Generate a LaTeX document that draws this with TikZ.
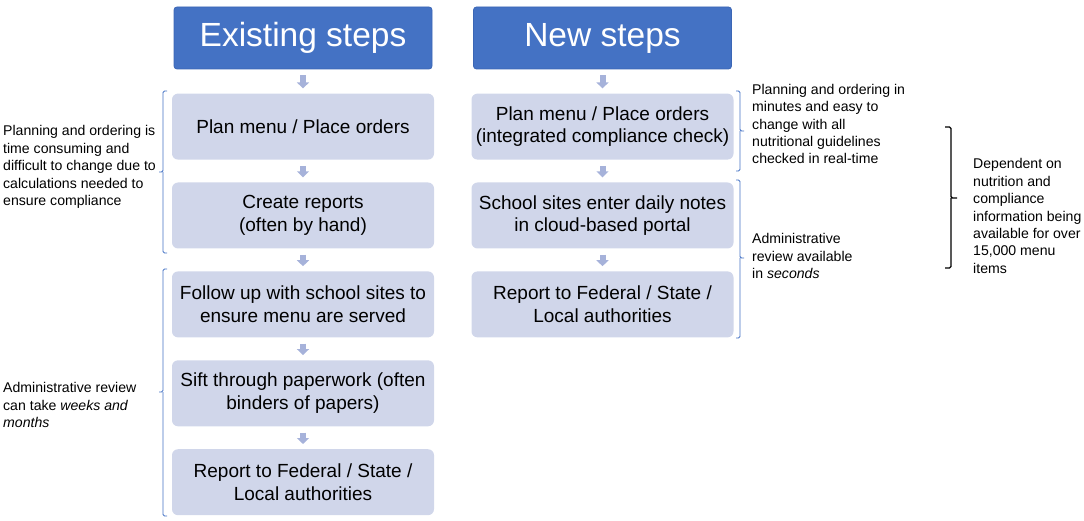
\documentclass[tikz,border=0pt]{standalone}
\usepackage{fontspec}
\setmainfont{Liberation Sans}
\usetikzlibrary{arrows.meta,positioning}

\definecolor{hdrblue}{HTML}{4472C4}
\definecolor{hdredge}{HTML}{3B66B5}
\definecolor{stepfill}{HTML}{D0D6EA}
\definecolor{arrfill}{HTML}{A6B2DA}

\begin{document}
\begin{tikzpicture}[x=1pt,y=-1pt,node distance=22.5pt,
  header/.style={rectangle,rounded corners=3pt,fill=hdrblue,draw=hdredge,line width=0.8pt,
                 text=white,minimum width=258pt,minimum height=62pt,font=\fontsize{33.5}{38}\selectfont},
  stepbox/.style={rectangle,rounded corners=6pt,fill=stepfill,minimum width=262pt,
                  minimum height=66pt,align=center,font=\fontsize{19}{22.5}\selectfont},
  flow/.style={draw=arrfill,line width=6pt,-{Triangle[width=12pt,length=6pt]},
               shorten <=6pt,shorten >=5pt},
  note/.style={align=left,anchor=west,inner sep=0pt,font=\fontsize{14.1}{17.4}\selectfont},
  brk/.style={draw=hdrblue,line width=0.8pt,rounded corners=1.5pt},
  blackbrk/.style={draw=black,line width=1.1pt,rounded corners=1.5pt}]
\useasboundingbox (0,0) rectangle (1084,521);

% existing steps
\node[header] (hold) at (303,38) {Existing steps};
\node[stepbox,below=24pt of hold] (old1) {Plan menu / Place orders};
\node[stepbox,below=of old1] (old2) {Create reports\\(often by hand)};
\node[stepbox,below=of old2] (old3) {Follow up with school sites to\\ensure menu are served};
\node[stepbox,below=of old3] (old4) {Sift through paperwork (often\\binders of papers)};
\node[stepbox,below=of old4] (old5) {Report to Federal / State /\\Local authorities};

% new steps
\node[header] (hnew) at (602.5,38) {New steps};
\node[stepbox,below=24pt of hnew] (new1) {Plan menu / Place orders\\(integrated compliance check)};
\node[stepbox,below=of new1] (new2) {School sites enter daily notes\\in cloud-based portal};
\node[stepbox,below=of new2] (new3) {Report to Federal / State /\\Local authorities};

\draw[flow] (hold) -- (old1);
\draw[flow] (old1) -- (old2);
\draw[flow] (old2) -- (old3);
\draw[flow] (old3) -- (old4);
\draw[flow] (old4) -- (old5);
\draw[flow] (hnew) -- (new1);
\draw[flow] (new1) -- (new2);
\draw[flow] (new2) -- (new3);

% brackets
\draw[brk] (167,91) -- (163,91) -- (163,172) -- (159,172) (163,172) -- (163,253) -- (167,253);
\draw[brk] (167,269) -- (163,269) -- (163,392) -- (159,392) (163,392) -- (163,516) -- (167,516);
\draw[brk] (736,91) -- (740,91) -- (740,131) -- (744,131) (740,131) -- (740,171) -- (736,171);
\draw[brk] (736,180) -- (740,180) -- (740,258) -- (744,258) (740,258) -- (740,338) -- (736,338);
\draw[blackbrk] (945,127) -- (951,127) -- (951,198) -- (957,198) (951,198) -- (951,268) -- (945,268);

% notes
\node[note] (nold1) at (3,167) {Planning and ordering is\\time consuming and\\difficult to change due to\\calculations needed to\\ensure compliance};
\node[note] (nold2) at (3,405) {Administrative review\\can take \textit{weeks and}\\\textit{months}};
\node[note] (nnew1) at (752,124) {Planning and ordering in\\minutes and easy to\\change with all\\nutritional guidelines\\checked in real-time};
\node[note] (nnew2) at (752,256) {Administrative\\review available\\in \textit{seconds}};
\node[note] (ndep) at (973,216) {Dependent on\\nutrition and\\compliance\\information being\\available for over\\15,000 menu\\items};
\end{tikzpicture}
\end{document}
